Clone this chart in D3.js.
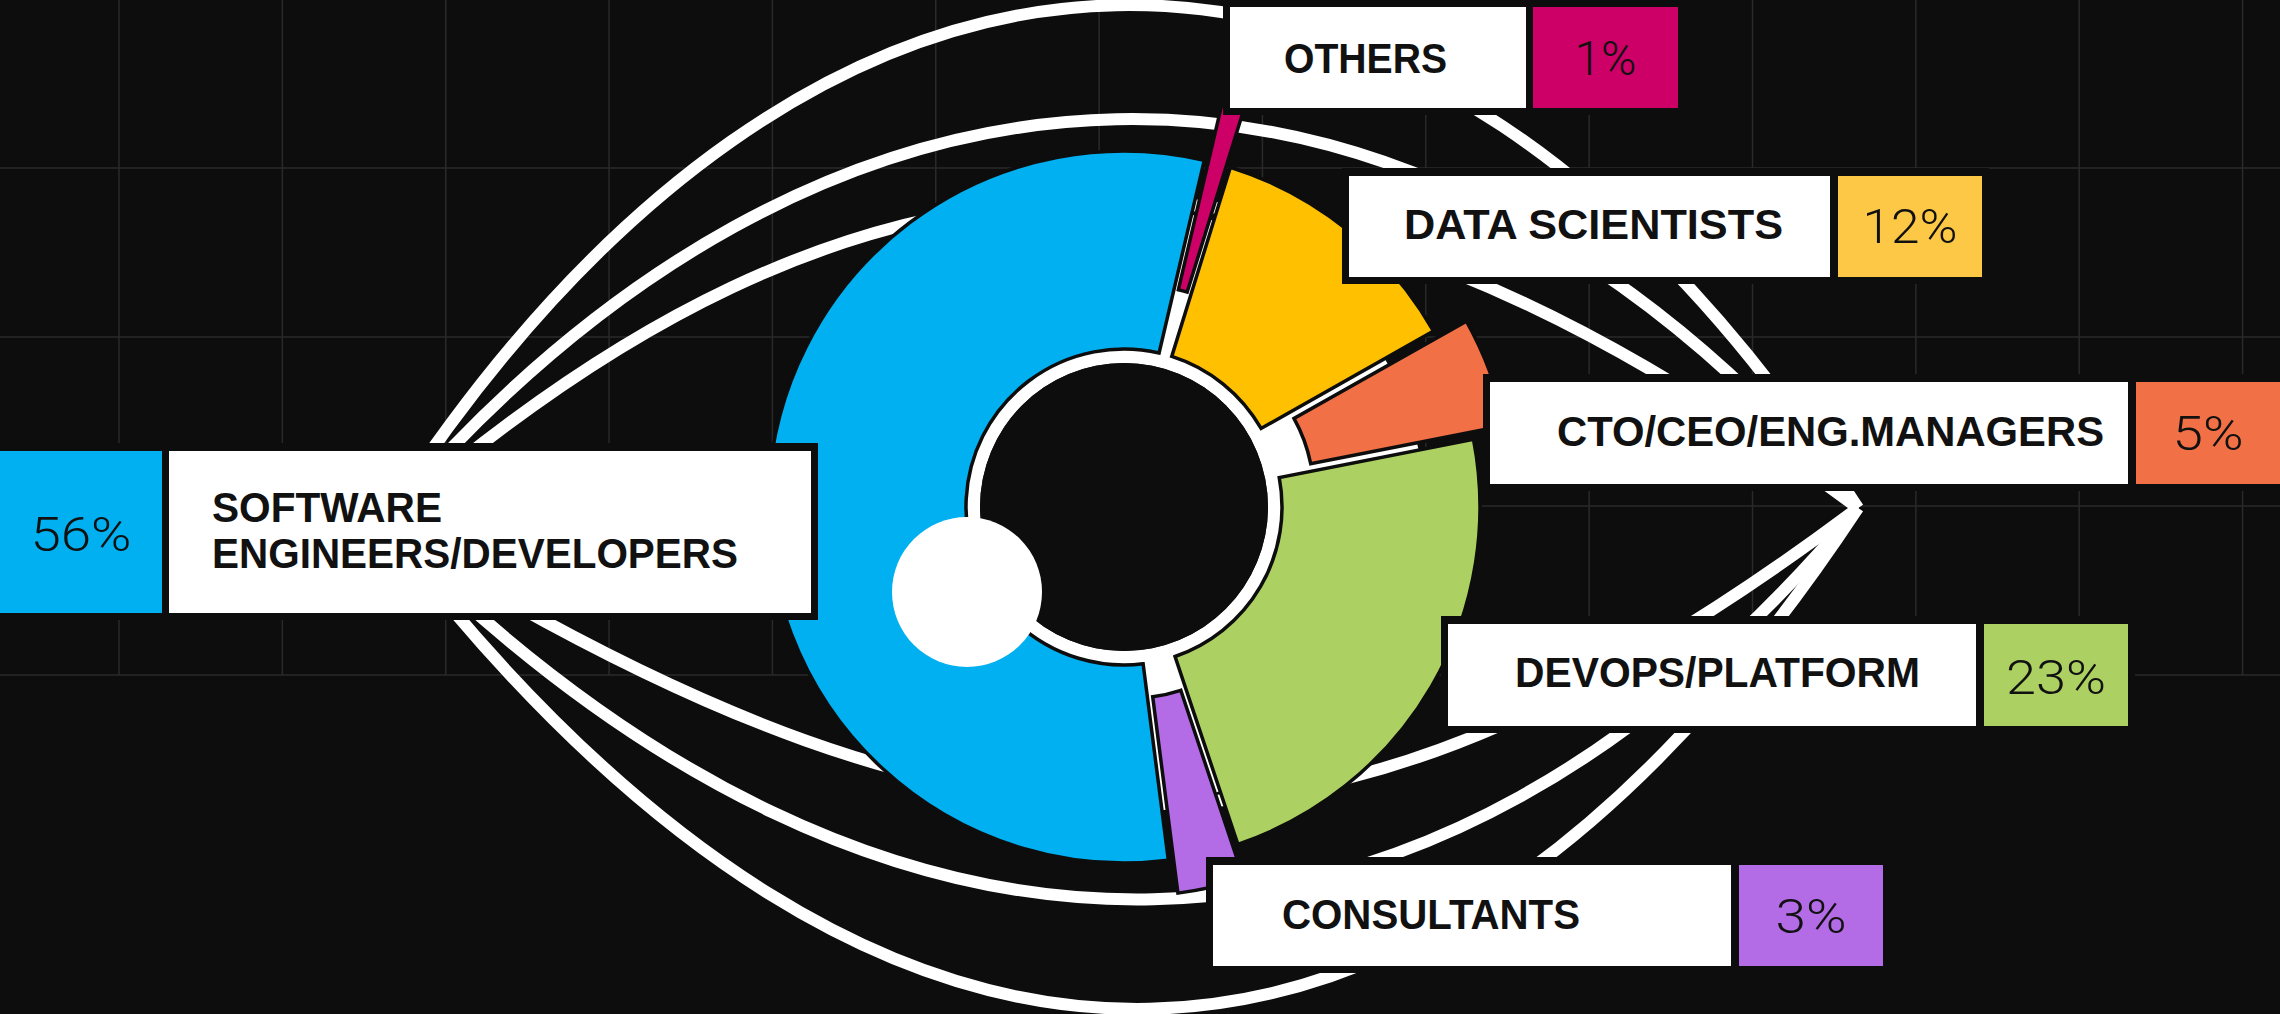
<!DOCTYPE html>
<html><head><meta charset="utf-8">
<script src="https://cdn.jsdelivr.net/npm/d3@7"></script>
<style>html,body{margin:0;padding:0;background:#0d0d0d;overflow:hidden}</style>
</head><body><svg id="c" width="2280" height="1014"></svg>
<script>
// ---------- data ----------
const categories = ["OTHERS", "DATA SCIENTISTS", "CTO/CEO/ENG.MANAGERS", "DEVOPS/PLATFORM", "CONSULTANTS", "SOFTWARE ENGINEERS/DEVELOPERS"];
const shares = [1, 12, 5, 23, 3, 56];
const labelLines = [["OTHERS"], ["DATA SCIENTISTS"], ["CTO/CEO/ENG.MANAGERS"], ["DEVOPS/PLATFORM"], ["CONSULTANTS"], ["SOFTWARE", "ENGINEERS/DEVELOPERS"]];

// ---------- style / layout ----------
const W = 2280, H = 1014, BG = "#0d0d0d";
const sliceColors = ["#cc0066", "#ffc000", "#f27046", "#acd162", "#b36be6", "#00b0f0"];
const boxColors   = ["#cc0066", "#fcc846", "#f27046", "#acd162", "#b36be6", "#00b0f0"];
const explode = [66, 0, 34, 0, 34, 0];
const center = {x: 1124, y: 507};
const labelLayout = [
  {box: [1230, 7, 296, 101],   val: [1533, 7, 145, 101],   tx: 1284, ty: [73],       tw: [163],      vy: 75,  vw: 62},
  {box: [1349, 176, 481, 101], val: [1838, 176, 144, 101], tx: 1404, ty: [239],      tw: [379],      vy: 243, vw: 95},
  {box: [1490, 382, 638, 102], val: [2136, 382, 144, 102], tx: 1557, ty: [446],      tw: [547],      vy: 450, vw: 71},
  {box: [1448, 624, 528, 102], val: [1984, 624, 144, 102], tx: 1515, ty: [687],      tw: [405],      vy: 694, vw: 100},
  {box: [1213, 865, 518, 101], val: [1739, 865, 144, 101], tx: 1282, ty: [929],      tw: [298],      vy: 933, vw: 71},
  {box: [169, 451, 642, 162],  val: [0, 451, 162, 162],    tx: 212,  ty: [522, 568], tw: [230, 526], vy: 551, vw: 101}
];
// decorative "eye" strokes: start point, bulge, control offsets
const tip = {x: 1858, y: 508};
const strokes = [
  {x0: 378, y0: 530, k: -685, d1: 436, d2: 440},
  {x0: 378, y0: 530, k: -533, d1: 446, d2: 450},
  {x0: 378, y0: 530, k: -425, d1: 480, d2: 570},
  {x0: 388, y0: 530, k: 653,  d1: 503, d2: 431},
  {x0: 388, y0: 530, k: 507,  d1: 506, d2: 425},
  {x0: 388, y0: 530, k: 380,  d1: 613, d2: 507}
];

const svg = d3.select("#c");
svg.append("rect").attr("width", W).attr("height", H).attr("fill", BG);

// grid
const gx = d3.scaleLinear().domain([0, 13]).range([119, 119 + 13 * 163.35]);
const gy = d3.scaleLinear().domain([0, 3]).range([168, 675]);
const grid = svg.append("g").attr("stroke", "#2a2a2a").attr("stroke-width", 1.5);
grid.selectAll("line.v").data(d3.range(14)).join("line")
  .attr("x1", d => gx(d)).attr("x2", d => gx(d)).attr("y1", 0).attr("y2", gy(3));
grid.selectAll("line.h").data(d3.range(4)).join("line")
  .attr("x1", 0).attr("x2", W).attr("y1", d => gy(d)).attr("y2", d => gy(d));

// white strokes
svg.append("g").selectAll("path").data(strokes).join("path")
  .attr("d", s => {
    const p = d3.path();
    p.moveTo(s.x0, s.y0);
    p.bezierCurveTo(s.x0 + s.d1, s.y0 + s.k, tip.x - s.d2, tip.y + s.k, tip.x, tip.y);
    return p.toString();
  })
  .attr("fill", "none").attr("stroke", "#fff").attr("stroke-width", 12);

// donut
const g = svg.append("g").attr("transform", `translate(${center.x},${center.y})`);
g.append("path").attr("d", d3.arc().innerRadius(144).outerRadius(300)({startAngle: 0, endAngle: 2 * Math.PI}))
  .attr("fill", "#fff");

const a0 = 13.2 * Math.PI / 180;
const pie = d3.pie().sort(null).value(d => d).startAngle(a0).endAngle(a0 + 2 * Math.PI).padAngle(0.008);
const arc = d3.arc().innerRadius(158).outerRadius(356).padRadius(250);
const arcs = pie(shares);
g.selectAll("path.slice").data(arcs).join("path")
  .attr("class", "slice")
  .attr("transform", (d, i) => {
    const m = (d.startAngle + d.endAngle) / 2;
    return `translate(${explode[i] * Math.sin(m)},${-explode[i] * Math.cos(m)})`;
  })
  .attr("d", arc)
  .attr("fill", (d, i) => sliceColors[i])
  .attr("stroke", BG).attr("stroke-width", 3.5).attr("stroke-linejoin", "miter");

g.append("circle").attr("r", 144).attr("fill", BG);
svg.append("circle").attr("cx", 967).attr("cy", 592).attr("r", 75).attr("fill", "#fff");

// labels
const lab = svg.append("g");
categories.forEach((c, i) => {
  const L = labelLayout[i];
  const x0 = Math.min(L.box[0], L.val[0]), y0 = Math.min(L.box[1], L.val[1]);
  const x1 = Math.max(L.box[0] + L.box[2], L.val[0] + L.val[2]);
  const y1 = Math.max(L.box[1] + L.box[3], L.val[1] + L.val[3]);
  const gg = lab.append("g");
  gg.append("rect").attr("x", x0 - 7).attr("y", y0 - 8).attr("width", x1 - x0 + 14).attr("height", y1 - y0 + 15).attr("fill", BG);
  gg.append("rect").attr("x", L.box[0]).attr("y", L.box[1]).attr("width", L.box[2]).attr("height", L.box[3]).attr("fill", "#fff");
  gg.append("rect").attr("x", L.val[0]).attr("y", L.val[1]).attr("width", L.val[2]).attr("height", L.val[3]).attr("fill", boxColors[i]);
  labelLines[i].forEach((line, j) => {
    gg.append("text").attr("x", L.tx).attr("y", L.ty[j]).text(line)
      .attr("font-family", "'Liberation Sans', Arial, sans-serif").attr("font-weight", 700).attr("font-size", 42)
      .attr("fill", "#111").attr("textLength", L.tw[j]).attr("lengthAdjust", "spacingAndGlyphs");
  });
  gg.append("text").attr("x", L.val[0] + L.val[2] / 2).attr("y", L.vy).text(shares[i] + "%")
    .attr("text-anchor", "middle")
    .attr("font-family", "Roboto, 'Noto Sans', sans-serif").attr("font-weight", 300).attr("font-size", 48)
    .attr("fill", "#111").attr("textLength", L.vw).attr("lengthAdjust", "spacingAndGlyphs");
});
</script></body></html>
